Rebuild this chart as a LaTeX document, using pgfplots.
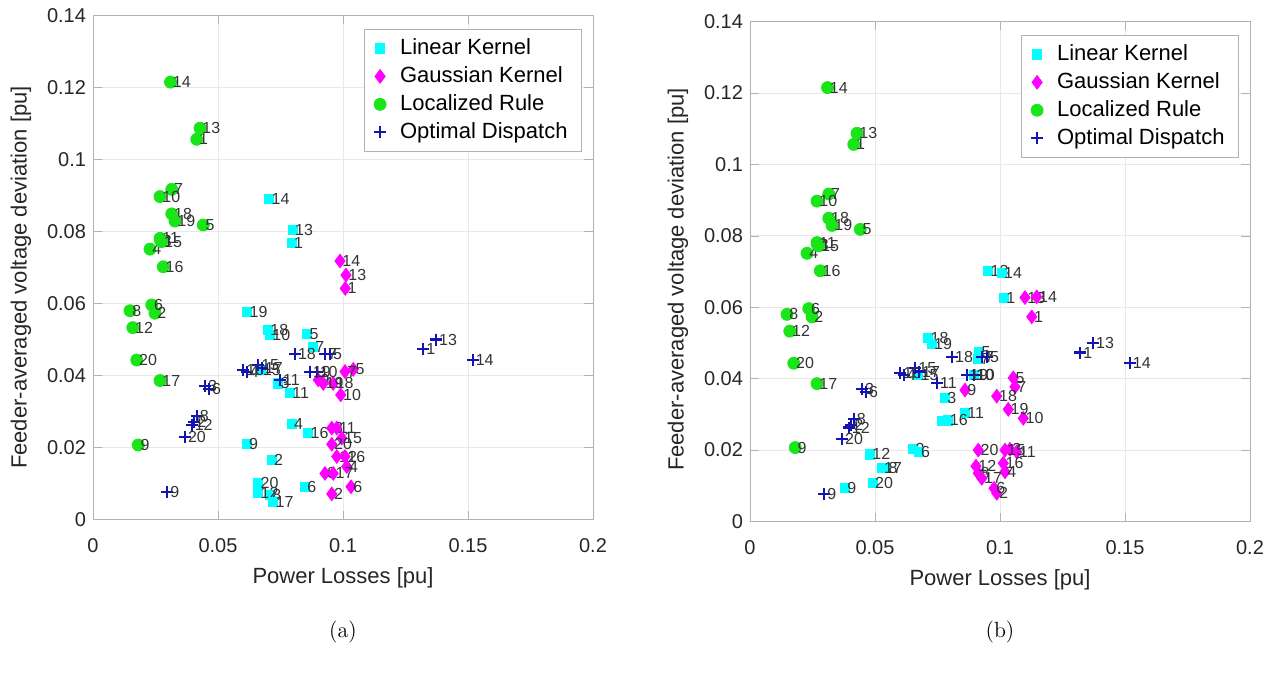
\documentclass[border=0pt]{standalone}
\usepackage{fontspec}
\usepackage{pgfplots}
\usepackage{pgfplotstable}
\pgfplotsset{compat=1.18}
\newfontfamily\arial{Liberation Sans}

\definecolor{lkcyan}{rgb}{0,1,1}
\definecolor{gkmag}{rgb}{1,0,1}
\definecolor{lrgreen}{rgb}{0.1,0.9,0.1}
\definecolor{odblue}{rgb}{0.08,0.08,0.7}

% (a) linear kernel
\pgfplotstableread{
x y lab
0.0795 0.0769 1
0.0715 0.0165 2
0.0741 0.0378 3
0.0795 0.0265 4
0.0857 0.0515 5
0.0848 0.0091 6
0.0880 0.0479 7
0.0708 0.0068 8
0.0615 0.0210 9
0.0708 0.0513 10
0.0788 0.0351 11
0.0661 0.0074 12
0.0799 0.0804 13
0.0705 0.0890 14
0.0670 0.0415 15
0.0861 0.0241 16
0.0721 0.0049 17
0.0700 0.0526 18
0.0617 0.0576 19
0.0661 0.0102 20
}\lkA
% (a) gaussian kernel
\pgfplotstableread{
x y lab
0.1009 0.0642 1
0.0955 0.0071 2
0.0955 0.0254 3
0.1015 0.0147 4
0.1041 0.0417 5
0.1032 0.0091 6
0.1008 0.0411 7
0.0928 0.0128 8
0.0901 0.0388 9
0.0991 0.0346 10
0.0975 0.0254 11
0.0975 0.0175 12
0.1012 0.0679 13
0.0988 0.0718 14
0.0995 0.0226 15
0.1008 0.0175 16
0.0961 0.0128 17
0.0961 0.0378 18
0.0921 0.0378 19
0.0955 0.0209 20
}\gkA
% localized rule (same in both)
\pgfplotstableread{
x y lab
0.0415 0.1056 1
0.0248 0.0573 2
0.0270 0.0775 3
0.0228 0.0751 4
0.0441 0.0818 5
0.0235 0.0596 6
0.0315 0.0917 7
0.0148 0.0580 8
0.0181 0.0207 9
0.0268 0.0897 10
0.0268 0.0781 11
0.0159 0.0533 12
0.0428 0.1087 13
0.0310 0.1215 14
0.0275 0.0772 15
0.0281 0.0702 16
0.0268 0.0386 17
0.0315 0.0849 18
0.0328 0.0829 19
0.0175 0.0443 20
}\lr
% optimal dispatch (same in both)
\pgfplotstableread{
x y lab
0.1321 0.0473 1
0.0405 0.0270 2
0.0448 0.0371 3
0.0615 0.0410 4
0.0948 0.0460 5
0.0464 0.0363 6
0.0928 0.0460 7
0.0415 0.0288 8
0.0297 0.0076 9
0.0895 0.0410 10
0.0748 0.0388 11
0.0395 0.0263 12
0.1372 0.0500 13
0.1519 0.0443 14
0.0661 0.0429 15
0.0601 0.0415 16
0.0676 0.0420 17
0.0808 0.0460 18
0.0868 0.0410 19
0.0368 0.0230 20
}\od
% (b) linear kernel
\pgfplotstableread{
x y lab
0.1016 0.0627 1
0.0653 0.0203 2
0.0780 0.0345 3
0.0767 0.0282 4
0.0917 0.0475 5
0.0675 0.0195 6
0.0913 0.0456 7
0.0545 0.0150 8
0.0380 0.0093 9
0.0895 0.0410 10
0.0860 0.0304 11
0.0480 0.0188 12
0.0953 0.0702 13
0.1007 0.0696 14
0.0673 0.0410 15
0.0790 0.0283 16
0.0527 0.0150 17
0.0713 0.0515 18
0.0727 0.0498 19
0.0491 0.0109 20
}\lkB
% (b) gaussian kernel
\pgfplotstableread{
x y lab
0.1127 0.0573 1
0.0987 0.0079 2
0.1040 0.0202 3
0.1020 0.0139 4
0.1053 0.0402 5
0.0976 0.0093 6
0.1060 0.0377 7
0.0913 0.0135 8
0.0860 0.0368 9
0.1093 0.0289 10
0.1067 0.0195 11
0.0904 0.0155 12
0.1100 0.0627 13
0.1147 0.0629 14
0.1020 0.0200 15
0.1013 0.0163 16
0.0927 0.0121 17
0.0987 0.0351 18
0.1033 0.0314 19
0.0913 0.0200 20
}\gkB

\pgfplotsset{
  panel/.style={
    scale only axis, width=250pt,
    xmin=0, xmax=0.2, ymin=0, ymax=0.14,
    xtick={0,0.05,0.1,0.15,0.2},
    xticklabels={0,0.05,0.1,0.15,0.2},
    ytick={0,0.02,0.04,0.06,0.08,0.1,0.12,0.14},
    yticklabels={0,0.02,0.04,0.06,0.08,0.1,0.12,0.14},
    grid=major, grid style={gray!18},
    axis line style={gray!60}, tick style={gray!60}, tick align=inside,
    ticklabel style={font=\arial\fontsize{10}{12}\selectfont, text=black!85},
    xticklabel style={yshift=-6pt},
    xlabel={Power Losses [pu]},
    ylabel={Feeder-averaged voltage deviation [pu]},
    every axis x label/.style={at={(axis description cs:0.5,0)}, anchor=center,
      yshift=-29pt, font=\arial\fontsize{11}{13}\selectfont, text=black!85},
    every axis y label/.style={at={(axis description cs:0,0.48)}, anchor=center,
      xshift=-36pt, rotate=90, font=\arial\fontsize{11}{13}\selectfont, text=black!85},
    legend style={at={(0.978,0.974)}, anchor=north east, draw=gray!60,
      font=\arial\fontsize{11}{13}\selectfont, row sep=0.5pt, column sep=5pt,
      inner xsep=5pt, inner ysep=3pt},
    legend cell align=left,
    nodes near coords, point meta=explicit symbolic,
    every node near coord/.append style={anchor=west, inner sep=0pt, xshift=1pt,
      font=\arial\fontsize{8}{9}\selectfont, text=black!80},
  },
  lk/.style={only marks, mark=square*, mark size=2.3pt, color=lkcyan},
  gk/.style={only marks, mark=diamond*, mark size=3.4pt, color=gkmag},
  lrs/.style={only marks, mark=*, mark size=3pt, color=lrgreen},
  ods/.style={only marks, mark=+, mark size=3pt, line width=1.1pt, color=odblue},
}

\begin{document}
\begin{tikzpicture}[x=1pt,y=1pt]
\path[use as bounding box] (0,0) rectangle (640.5,341);

\begin{axis}[panel, height=252pt, at={(46.5pt,81.25pt)}, anchor=south west]
  \addplot[lk] table[x=x, y=y, meta=lab] {\lkA};
  \addplot[gk] table[x=x, y=y, meta=lab] {\gkA};
  \addplot[lrs] table[x=x, y=y, meta=lab] {\lr};
  \addplot[ods] table[x=x, y=y, meta=lab] {\od};
  \legend{Linear Kernel, Gaussian Kernel, Localized Rule, Optimal Dispatch}
\end{axis}

\begin{axis}[panel, height=250pt, at={(375pt,80.25pt)}, anchor=south west,
  every axis y label/.append style={xshift=1pt}]
  \addplot[lk] table[x=x, y=y, meta=lab] {\lkB};
  \addplot[gk] table[x=x, y=y, meta=lab] {\gkB};
  \addplot[lrs] table[x=x, y=y, meta=lab] {\lr};
  \addplot[ods] table[x=x, y=y, meta=lab] {\od};
  \legend{Linear Kernel, Gaussian Kernel, Localized Rule, Optimal Dispatch}
\end{axis}

\node[font=\fontsize{11}{13}\selectfont] at (171.5,25) {(a)};
\node[font=\fontsize{11}{13}\selectfont] at (500,25) {(b)};
\end{tikzpicture}
\end{document}
